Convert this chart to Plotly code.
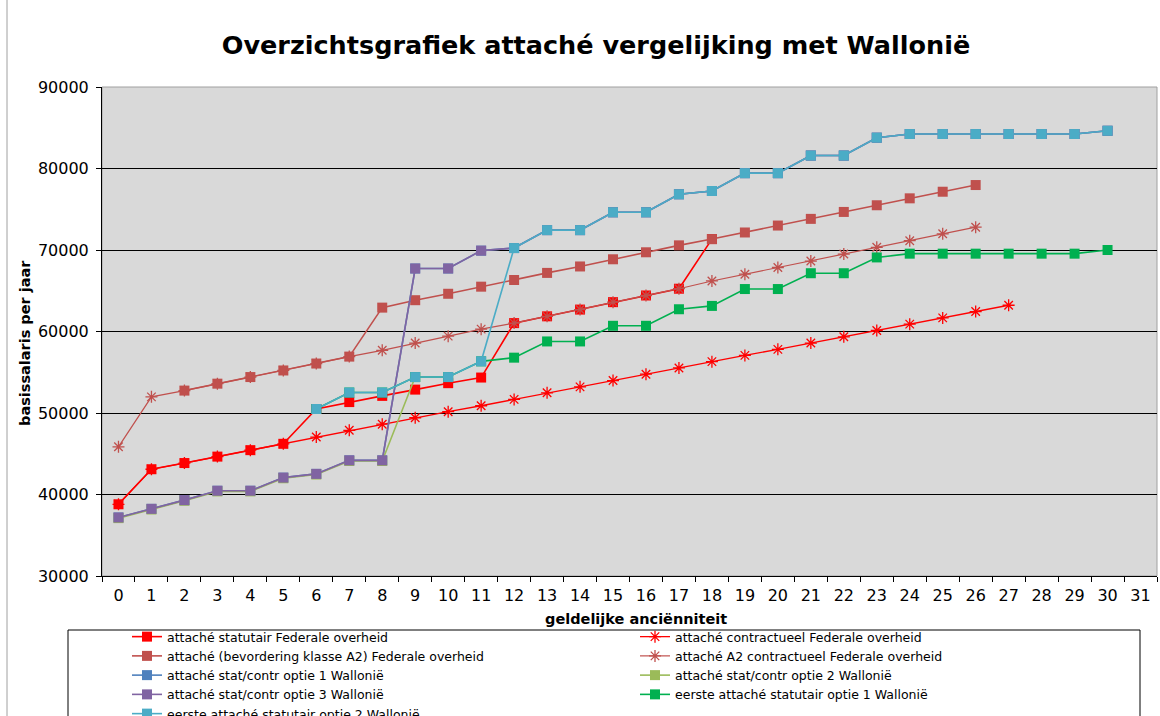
import plotly.graph_objects as go

W, H = 1160, 716
L, R, T, B = 102, 1157, 87, 576

years = [str(i) for i in range(32)]

statutair_x = list(range(0, 19))
statutair = [38800, 43100, 43860, 44650, 45440, 46220, 50490, 51340, 52100, 52870,
             53660, 54350, 61030, 61860, 62690, 63600, 64420, 65250, 71340]

contract_x = list(range(0, 28))
contract = [38800, 43100, 43860, 44650, 45440, 46220, 47050, 47880, 48630, 49420,
            50160, 50890, 51670, 52480, 53210, 53980, 54760, 55530, 56300, 57070,
            57810, 58580, 59350, 60120, 60900, 61670, 62450, 63220]

a2_x = list(range(2, 27))
a2 = [52750, 53600, 54410, 55220, 56070, 56920, 62930, 63840, 64630, 65500,
      66320, 67190, 67980, 68860, 69720, 70570, 71340, 72150, 73000, 73820,
      74670, 75490, 76340, 77150, 77970]

a2c_x = list(range(0, 27))
a2c = [45850, 51980, 52750, 53600, 54410, 55220, 56070, 56920, 57690, 58580,
       59430, 60290, 61030, 61860, 62690, 63600, 64420, 65250, 66200, 67030,
       67850, 68640, 69500, 70330, 71140, 71990, 72800]

opt1_x = list(range(0, 31))
opt1 = [37180, 38240, 39310, 40460, 40460, 42070, 42530, 44190, 44190, 67730,
        67730, 69920, 70240, 72440, 72440, 74630, 74630, 76840, 77240, 79430,
        79430, 81590, 81590, 83780, 84230, 84230, 84230, 84230, 84230, 84230, 84630]

opt2_x = list(range(0, 10))
opt2 = [37100, 38160, 39230, 40380, 40380, 41990, 42450, 44110, 44110, 54410]

opt3_x = list(range(0, 31))
opt3 = [37180, 38240, 39310, 40460, 40460, 42070, 42530, 44190, 44190, 67730,
        67730, 69920, 70240, 72440, 72440, 74630, 74630, 76840, 77240, 79430,
        79430, 81590, 81590, 83780, 84230, 84230, 84230, 84230, 84230, 84230, 84630]

eerste1_x = list(range(6, 31))
eerste1 = [50490, 52510, 52510, 54410, 54410, 56340, 56790, 58780, 58780, 60700,
           60700, 62730, 63140, 65210, 65210, 67150, 67150, 69090, 69550, 69550,
           69550, 69550, 69550, 69550, 70000]

eerste2_x = list(range(6, 31))
eerste2 = [50490, 52510, 52510, 54410, 54410, 56340, 70240, 72440, 72440, 74630,
           74630, 76840, 77240, 79430, 79430, 81590, 81590, 83780, 84230, 84230,
           84230, 84230, 84230, 84230, 84630]

series = [
    ("attaché statutair Federale overheid", statutair_x, statutair, "#FF0000", "square", 1.6),
    ("attaché contractueel Federale overheid", contract_x, contract, "#FF0000", "asterisk-open", 1.3),
    ("attaché (bevordering klasse A2) Federale overheid", a2_x, a2, "#C0504D", "square", 1.6),
    ("attaché A2 contractueel Federale overheid", a2c_x, a2c, "#C0504D", "asterisk-open", 1.2),
    ("attaché stat/contr optie 1 Wallonië", opt1_x, opt1, "#4F81BD", "square", 1.6),
    ("attaché stat/contr optie 2 Wallonië", opt2_x, opt2, "#9BBB59", "square", 1.6),
    ("attaché stat/contr optie 3 Wallonië", opt3_x, opt3, "#8064A2", "square", 1.6),
    ("eerste attaché statutair optie 1 Wallonië", eerste1_x, eerste1, "#00B050", "square", 1.6),
    ("eerste attaché statutair optie 2 Wallonië", eerste2_x, eerste2, "#4BACC6", "square", 1.6),
]

fig = go.Figure()
for name, xs, ys, col, sym, lw in series:
    if sym == "square":
        marker = dict(symbol=sym, size=10, color=col, line=dict(width=0))
    else:
        marker = dict(symbol=sym, size=10, color=col, line=dict(width=1.3, color=col))
    fig.add_trace(go.Scatter(
        x=[years[i] for i in xs], y=ys, name=name, mode="lines+markers",
        line=dict(color=col, width=lw), marker=marker,
    ))

pw, ph = R - L, B - T
def px(p):
    return (p - L) / pw
def py(p):
    return 1 - (p - T) / ph

fig.update_layout(
    width=W, height=H,
    margin=dict(l=L, r=W - R, t=T, b=H - B, autoexpand=False),
    paper_bgcolor="white",
    plot_bgcolor="#D9D9D9",
    font=dict(family="DejaVu Sans, Verdana, sans-serif", color="black"),
    title=dict(text="<b>Overzichtsgrafiek attaché vergelijking met Wallonië</b>",
               x=596 / W, xanchor="center", xref="container",
               y=1 - 45 / H, yanchor="middle", yref="container",
               font=dict(size=25.5, color="black")),
    xaxis=dict(type="category", categoryorder="array", categoryarray=years,
               tickvals=years, ticktext=years,
               range=[-0.5, 31.5], tickson="boundaries", ticks="outside",
               ticklen=5, tickcolor="black", showgrid=False, showline=True,
               linecolor="black", linewidth=1, tickfont=dict(size=16),
               ticklabelstandoff=5, zeroline=False),
    yaxis=dict(range=[30000, 90000], dtick=10000, tickformat="d",
               ticks="outside", ticklen=5, tickcolor="black",
               showgrid=True, gridcolor="black", gridwidth=1,
               showline=True, linecolor="black", linewidth=1,
               tickfont=dict(size=16), ticklabelstandoff=4, zeroline=False),
    showlegend=True,
    legend=dict(orientation="h", xref="paper", yref="paper",
                x=px(127), xanchor="left", y=py(622), yanchor="top",
                entrywidth=463, entrywidthmode="pixels",
                font=dict(size=12.5), bgcolor="rgba(0,0,0,0)", borderwidth=0,
                tracegroupgap=0, itemwidth=30),
    shapes=[
        dict(type="rect", xref="paper", yref="paper", x0=0, x1=1, y0=0, y1=1,
             line=dict(color="#A0A0A0", width=1), layer="below"),
        dict(type="rect", xref="paper", yref="paper", x0=px(68), x1=px(1140),
             y0=py(630), y1=py(760), line=dict(color="black", width=1)),
        dict(type="line", xref="paper", yref="paper", x0=px(7), x1=px(7),
             y0=py(-5), y1=py(760), line=dict(color="#A0A0A0", width=1)),
    ],
    annotations=[
        dict(text="<b>basissalaris per jaar</b>", xref="paper", yref="paper",
             x=px(25), y=py(343), textangle=-90, showarrow=False,
             xanchor="center", yanchor="middle", font=dict(size=14.5)),
        dict(text="<b>geldelijke anciënniteit</b>", xref="paper", yref="paper",
             x=px(636), y=py(619), showarrow=False,
             xanchor="center", yanchor="middle", font=dict(size=14.5)),
    ],
)

fig.write_html("out.html", config={"displayModeBar": False},
               post_script="document.body.style.margin='0';document.body.style.overflow='hidden';")
